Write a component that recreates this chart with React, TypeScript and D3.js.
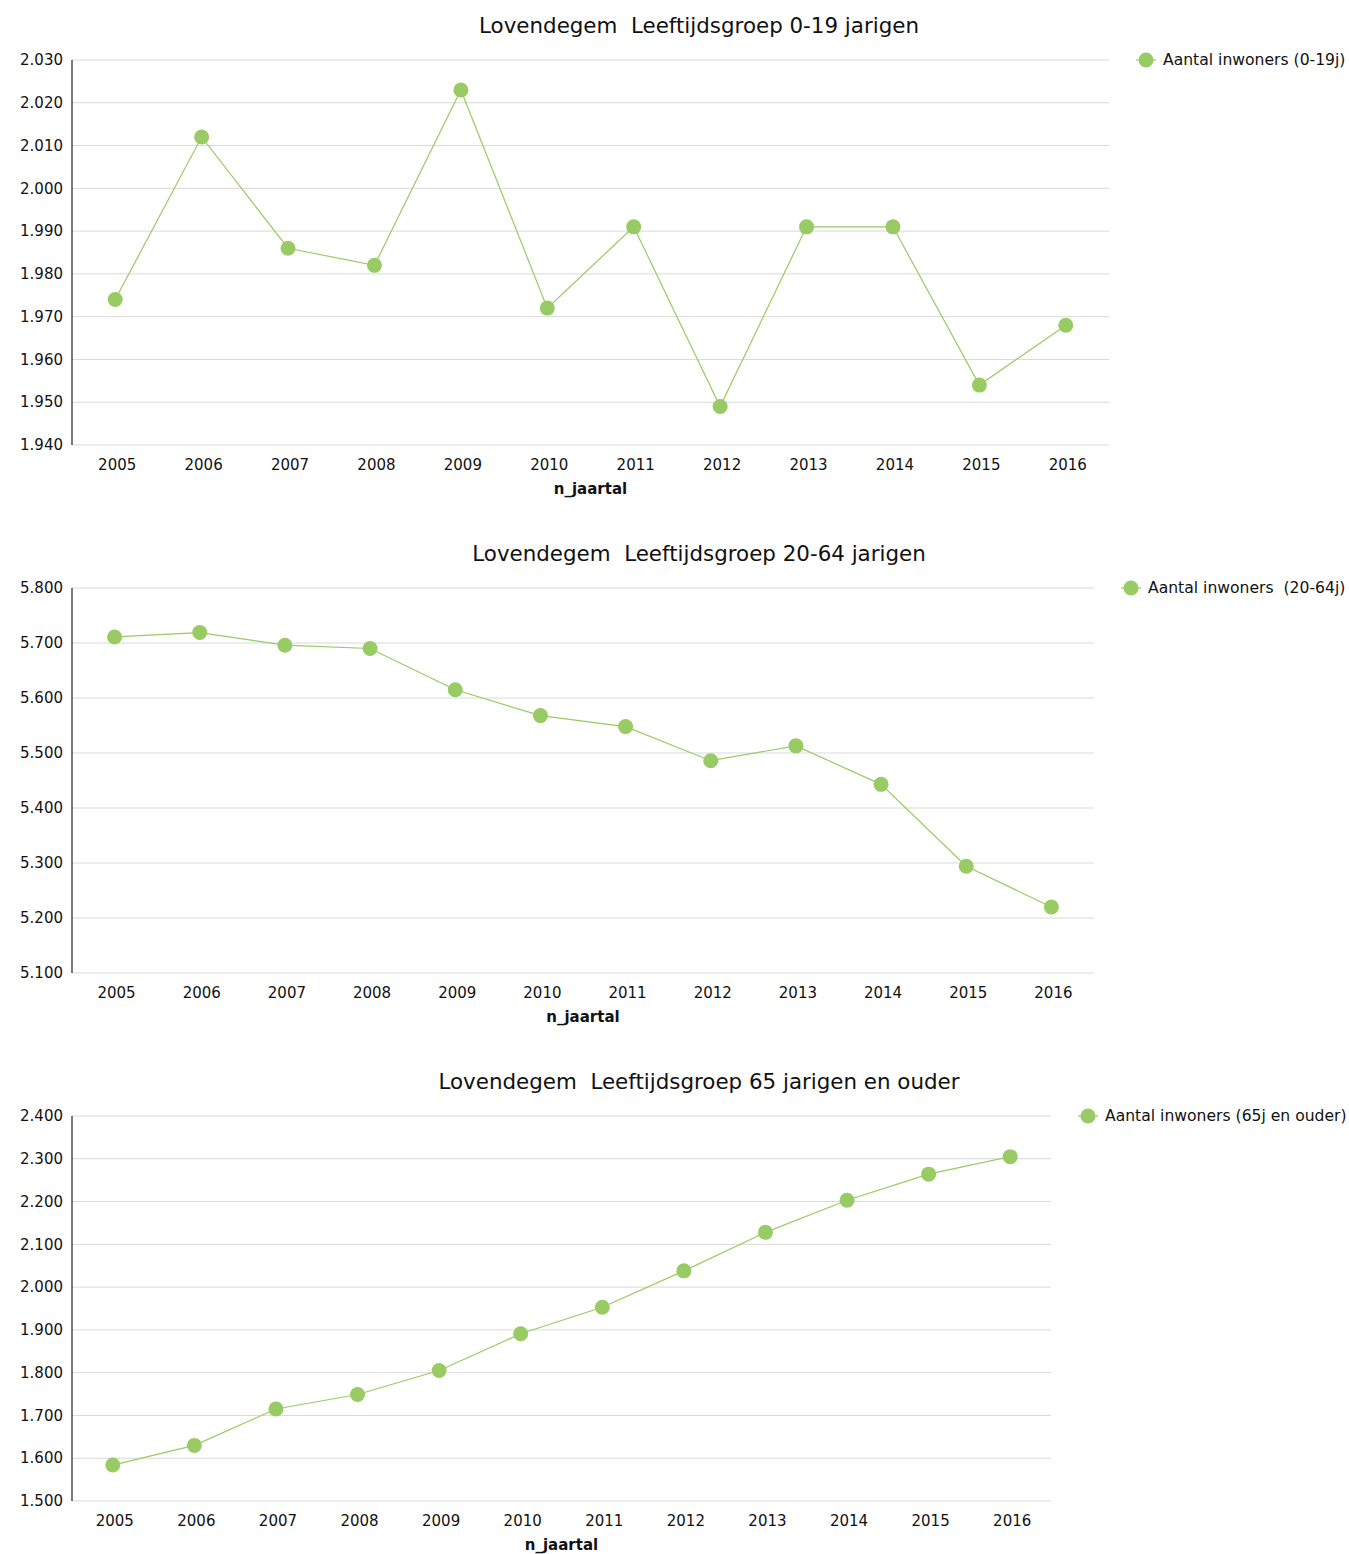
import { useEffect } from "react";
import * as d3 from "d3";

// years on the x axis (shared by the three panels)
const years = ["2005", "2006", "2007", "2008", "2009", "2010", "2011", "2012", "2013", "2014", "2015", "2016"];

// Aantal inwoners per leeftijdsgroep
const youngValues = [1974, 2012, 1986, 1982, 2023, 1972, 1991, 1949, 1991, 1991, 1954, 1968];
const adultValues = [5711, 5719, 5696, 5690, 5615, 5568, 5548, 5486, 5513, 5443, 5294, 5220];
const seniorValues = [1584, 1630, 1715, 1749, 1805, 1891, 1953, 2038, 2128, 2203, 2264, 2305];

const titles = [
  "Lovendegem  Leeftijdsgroep 0-19 jarigen",
  "Lovendegem  Leeftijdsgroep 20-64 jarigen",
  "Lovendegem  Leeftijdsgroep 65 jarigen en ouder",
];
const legendLabels = ["Aantal inwoners (0-19j)", "Aantal inwoners  (20-64j)", "Aantal inwoners (65j en ouder)"];
const yDomains: [number, number][] = [[1940, 2030], [5100, 5800], [1500, 2400]];
const yTickSteps = [10, 100, 100];
const axisTitle = "n_jaartal";

const GREEN = "#98cb64";
const FONT = "'DejaVu Sans', Verdana, sans-serif";

const nl = d3.formatLocale({ decimal: ",", thousands: ".", grouping: [3], currency: ["€", ""] });
const fmt = nl.format(",");

function Panel(props: {
  top: number; title: string; legend: string; values: number[];
  domain: [number, number]; step: number; right: number
}) {
  const { top, title, legend, values, domain, step, right } = props;
  const left = 72;
  const plotTop = top + 60;
  const plotBottom = top + 445;

  const x = d3.scaleBand<string>().domain(years).range([left, right]);
  const y = d3.scaleLinear().domain(domain).range([plotBottom, plotTop]);
  const ticks = d3.range(domain[0], domain[1] + step / 2, step);
  const cx = (i: number) => (x(years[i]) ?? 0) + x.bandwidth() / 2;

  const line = d3.line<number>()
    .x((_, i) => cx(i))
    .y((d) => y(d));

  const legendX = right + 37;

  return (
    <g>
      <text x={699} y={top + 33} textAnchor="middle" fontSize={21.4} fill="#111" style={{ whiteSpace: "pre" }}>{title}</text>
      {ticks.map((t) => (
        <g key={t}>
          <line x1={left} x2={right} y1={y(t)} y2={y(t)} stroke="#d9d9d9" strokeWidth={1} />
          <text x={63} y={y(t)} dy="0.35em" textAnchor="end" fontSize={15} fill="#111">{fmt(t)}</text>
        </g>
      ))}
      <line x1={left} x2={left} y1={plotTop} y2={plotBottom} stroke="#222" strokeWidth={1.2} />
      {years.map((yr, i) => (
        <text key={yr} x={cx(i) + 2} y={plotBottom + 25} textAnchor="middle" fontSize={15} fill="#111">{yr}</text>
      ))}
      <text x={(left + right) / 2} y={plotBottom + 49} textAnchor="middle" fontSize={15} fontWeight="bold" fill="#111">{axisTitle}</text>
      <path d={line(values) ?? ""} fill="none" stroke={GREEN} strokeWidth={1.2} />
      {values.map((v, i) => (
        <circle key={i} cx={cx(i)} cy={y(v)} r={7.5} fill={GREEN} />
      ))}
      <line x1={legendX - 10} x2={legendX + 10} y1={plotTop} y2={plotTop} stroke={GREEN} strokeWidth={1.2} />
      <circle cx={legendX} cy={plotTop} r={7.5} fill={GREEN} />
      <text x={legendX + 17} y={plotTop} dy="0.35em" fontSize={15.6} fill="#111" style={{ whiteSpace: "pre" }}>{legend}</text>
    </g>
  );
}

export default function App() {
  useEffect(() => {
    document.body.style.margin = "0";
  }, []);

  const series = [youngValues, adultValues, seniorValues];
  const rights = [1109, 1094, 1051];

  return (
    <svg width={1349} height={1554} style={{ display: "block", fontFamily: FONT, background: "#fff" }}>
      {series.map((vals, k) => (
        <Panel
          key={k}
          top={k * 528}
          title={titles[k]}
          legend={legendLabels[k]}
          values={vals}
          domain={yDomains[k]}
          step={yTickSteps[k]}
          right={rights[k]}
        />
      ))}
    </svg>
  );
}
